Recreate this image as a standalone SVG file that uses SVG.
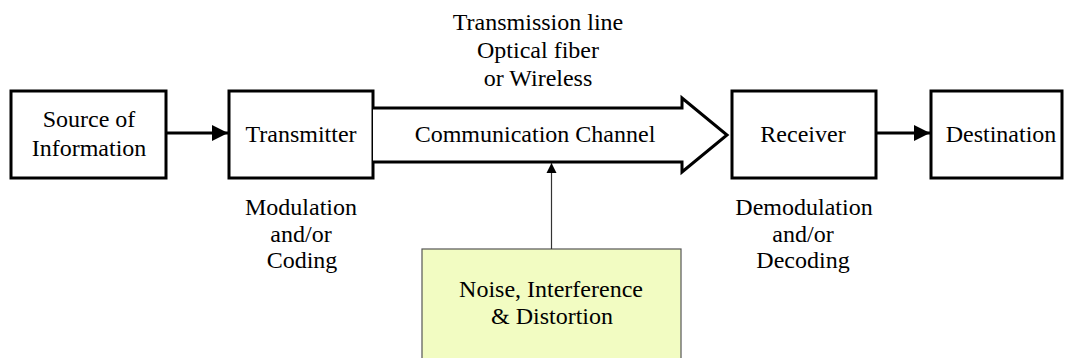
<svg xmlns="http://www.w3.org/2000/svg" width="1065" height="358" viewBox="0 0 1065 358">
<style>
text{font-size:24px;fill:#000;text-anchor:middle}
.box{fill:#fff;stroke:#000;stroke-width:3}
.conn{stroke:#000;stroke-width:3;fill:none}
.thin{stroke:#333;stroke-width:1.2;fill:none}
</style>
<defs>
<marker id="ah" viewBox="0 0 10 10" refX="10" refY="5" markerWidth="16" markerHeight="16" markerUnits="userSpaceOnUse" orient="auto"><path d="M0,0 L10,5 L0,10 Z" fill="#000"/></marker>
<marker id="ahs" viewBox="0 0 10 10" refX="10" refY="5" markerWidth="10" markerHeight="12" markerUnits="userSpaceOnUse" orient="auto"><path d="M0,0 L10,5 L0,10 Z" fill="#000"/></marker>
</defs>
<g font-family="'Liberation Serif', 'Times New Roman', 'DejaVu Serif', serif">
<g id="source"><rect class="box" x="11" y="91" width="155" height="87"/><text x="89" y="127">Source of</text><text x="89" y="156">Information</text></g>
<g id="transmitter"><rect class="box" x="229" y="91" width="144" height="87"/><text x="301" y="142">Transmitter</text></g>
<g id="channel"><path d="M373,108 L682,108 L682,98 L727,135 L682,172 L682,162 L373,162" fill="#fff" stroke="#000" stroke-width="3" stroke-linejoin="miter"/><text x="535" y="142">Communication Channel</text></g>
<g id="receiver"><rect class="box" x="732" y="91" width="144" height="87"/><text x="803" y="142">Receiver</text></g>
<g id="destination"><rect class="box" x="931" y="91" width="131" height="87"/><text x="1001" y="142">Destination</text></g>
<g id="noise"><rect x="422" y="249" width="259" height="120" fill="#f2fcc2" stroke="#555" stroke-width="1.2"/><text x="551" y="297">Noise, Interference</text><text x="552" y="324">&amp; Distortion</text></g>
<g id="medium-label"><text x="538" y="30">Transmission line</text><text x="538" y="58">Optical fiber</text><text x="538" y="86">or Wireless</text></g>
<g id="mod-label"><text x="301" y="215">Modulation</text><text x="301" y="242">and/or</text><text x="302" y="268">Coding</text></g>
<g id="demod-label"><text x="804" y="215">Demodulation</text><text x="803" y="242">and/or</text><text x="803" y="268">Decoding</text></g>
</g>
<g id="connectors">
<line class="conn" x1="166" y1="133" x2="228" y2="133" marker-end="url(#ah)"/>
<line class="conn" x1="876" y1="133" x2="930" y2="133" marker-end="url(#ah)"/>
<line class="thin" x1="551.5" y1="249" x2="551.5" y2="163" marker-end="url(#ahs)"/>
</g>
</svg>
